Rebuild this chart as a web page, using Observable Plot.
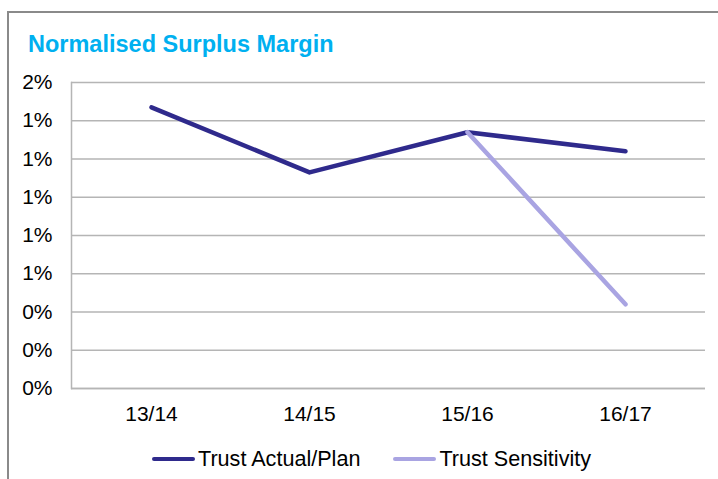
<!DOCTYPE html>
<html>
<head>
<meta charset="utf-8">
<script src="https://cdn.jsdelivr.net/npm/d3@7"></script>
<script src="https://cdn.jsdelivr.net/npm/@observablehq/plot@0.6"></script>
<style>
  html, body { margin: 0; padding: 0; background: #fff; overflow: hidden; }
  #wrap { position: relative; width: 718px; height: 479px; font-family: "Liberation Sans", Arial, sans-serif; }
  #border { position: absolute; left: 7px; top: 11px; width: 800px; height: 600px; border: 2px solid #8a8a8a; box-sizing: border-box; }
  #title { position: absolute; left: 28px; top: 31px; font-size: 23.5px; font-weight: bold; color: #00b0f0; white-space: nowrap; }
  #chart { position: absolute; left: 0; top: 0; }
  #legend { position: absolute; left: 152px; top: 446px; display: flex; align-items: center; font-size: 21.6px; color: #000; white-space: nowrap; }
  .item { display: flex; align-items: center; margin-right: 33px; }
  .sw { width: 43px; height: 4px; margin-right: 3px; border-radius: 2px; }
</style>
</head>
<body>
<div id="wrap">
  <div id="border"></div>
  <div id="chart"></div>
  <div id="title">Normalised Surplus Margin</div>
  <div id="legend"></div>
</div>
<script>
const years = ["13/14", "14/15", "15/16", "16/17"];
const actualPlan = [1.47, 1.13, 1.34, 1.24];
const sensitivity = [null, null, 1.34, 0.44];
const yTicks = [0, 0.2, 0.4, 0.6, 0.8, 1.0, 1.2, 1.4, 1.6];
const seriesNames = ["Trust Actual/Plan", "Trust Sensitivity"];
const seriesColors = ["#2f2a8c", "#a9a4e2"];

const actualData = years.map((y, i) => ({year: y, value: actualPlan[i]}));
const sensData = years.map((y, i) => ({year: y, value: sensitivity[i]}));

const plot = Plot.plot({
  width: 718,
  height: 440,
  marginTop: 82,
  marginBottom: 52,
  marginLeft: 71,
  marginRight: 13,
  style: {fontFamily: "Liberation Sans, Arial, sans-serif", fontSize: "21px", color: "#000", background: "transparent"},
  x: {type: "point", domain: years, padding: 0.5, label: null},
  y: {domain: [0, 1.6], label: null},
  marks: [
    Plot.ruleY(yTicks, {stroke: "#b5b5b5", strokeWidth: 1.5}),
    Plot.frame({anchor: "left", stroke: "#b5b5b5", strokeWidth: 1.5}),
    Plot.ruleY([0], {stroke: "#b5b5b5", strokeWidth: 1.5}),
    Plot.axisY({ticks: yTicks, tickSize: 0, tickPadding: 19, tickFormat: d => Math.round(d) + "%", fontSize: 21, label: null}),
    Plot.axisX({tickSize: 0, tickPadding: 18, fontSize: 21, label: null}),
    Plot.line(actualData, {x: "year", y: "value", stroke: seriesColors[0], strokeWidth: 4.5, strokeLinecap: "round", strokeLinejoin: "round"}),
    Plot.line(sensData, {x: "year", y: "value", stroke: seriesColors[1], strokeWidth: 4.5, strokeLinecap: "round", strokeLinejoin: "round"})
  ]
});
document.getElementById("chart").appendChild(plot);

const legend = document.getElementById("legend");
seriesNames.forEach((name, i) => {
  const item = document.createElement("div");
  item.className = "item";
  const sw = document.createElement("div");
  sw.className = "sw";
  sw.style.background = seriesColors[i];
  const t = document.createElement("span");
  t.textContent = name;
  item.appendChild(sw);
  item.appendChild(t);
  legend.appendChild(item);
});
</script>
</body>
</html>
